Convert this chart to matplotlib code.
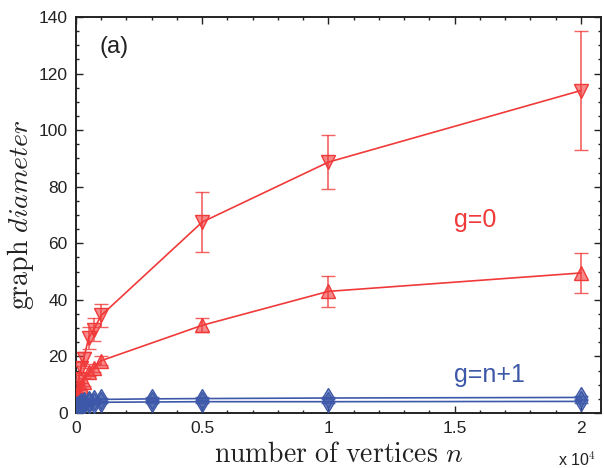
import matplotlib
matplotlib.use("Agg")
import matplotlib.pyplot as plt
from matplotlib.ticker import MultipleLocator, FuncFormatter

# number of vertices
n_red = [50, 100, 200, 300, 500, 700, 1000, 5000, 10000, 20000]
n_blue = [50, 100, 200, 300, 500, 700, 1000, 3000, 5000, 10000, 20000]

# g=0, two series (down / up triangles)
red_down = [8, 12, 16, 19, 26.5, 29.5, 34.5, 67.5, 88.7, 114]
red_down_err = [1, 1.5, 2, 2.5, 4, 4, 4, 10.5, 9.5, 21]
red_up = [5, 7, 9.5, 11, 14.5, 16, 18.5, 31, 43, 49.5]
red_up_err = [0.5, 1, 1, 1.5, 1.5, 1.5, 1.5, 2.5, 5.5, 7]

# g=n+1
blue_up = [2.5, 3.0, 3.6, 4.0, 4.4, 4.6, 4.8, 5.0, 5.1, 5.3, 5.5]
blue_up_err = [0.3, 0.3, 0.4, 0.4, 0.4, 0.4, 0.4, 0.5, 0.5, 0.5, 0.5]
blue_down = [1.5, 2.2, 2.8, 3.1, 3.4, 3.6, 3.8, 3.9, 4.0, 4.0, 4.1]
blue_down_err = [0.3, 0.3, 0.3, 0.3, 0.3, 0.3, 0.3, 0.4, 0.4, 0.4, 0.4]

red = "#f03a3a"
blue = "#3d58a8"

plt.rcParams['mathtext.fontset'] = 'cm'
sans = ['Liberation Sans', 'DejaVu Sans']

fig = plt.figure(figsize=(6.04, 4.68), dpi=100)
ax = fig.add_axes([76 / 604, 55 / 468, 525 / 604, 396 / 468])


def series(x, y, err, color, marker, ms):
    ax.errorbar(x, y, yerr=err, color=color, lw=1.2, elinewidth=1.2,
                capsize=5, capthick=1.2, ecolor=color + "cc",
                marker=marker, markersize=ms, mfc=color + "99", mec=color,
                mew=1.0, zorder=3)


series(n_red, red_down, red_down_err, red, 'v', 10.5)
series(n_red, red_up, red_up_err, red, '^', 10.5)
series(n_blue, blue_up, blue_up_err, blue, 'd', 10)
series(n_blue, blue_down, blue_down_err, blue, 'd', 10)

ax.set_xlim(0, 20800)
ax.set_ylim(0, 140)
ax.xaxis.set_major_locator(MultipleLocator(5000))
ax.xaxis.set_minor_locator(MultipleLocator(1000))
ax.yaxis.set_major_locator(MultipleLocator(20))
ax.yaxis.set_minor_locator(MultipleLocator(5))
ax.xaxis.set_major_formatter(FuncFormatter(lambda v, p: "%g" % (v / 1e4)))
ax.tick_params(which='both', direction='in', top=True, right=True,
               width=1.0, color='#222222')
ax.tick_params(which='major', length=5, labelsize=12.5, pad=6)
ax.tick_params(which='minor', length=2.5)
for lab in ax.get_xticklabels() + ax.get_yticklabels():
    lab.set_family(sans)
    lab.set_color('#222222')
for s in ax.spines.values():
    s.set_linewidth(1.4)
    s.set_color('#222222')

ax.set_xlabel(r"$\mathrm{number\ of\ vertices}\ n$", fontsize=20,
              color='#222222', labelpad=3)
ax.set_ylabel(r"$\mathrm{graph}\ diameter$", fontsize=20,
              color='#222222', labelpad=2)

fig.text(558 / 604, 2 / 468, "x 10$^\\mathsf{4}$", family=sans, fontsize=11.5,
         color='#222222', ha='left', va='baseline')

ax.text(0.045, 0.925, "(a)", transform=ax.transAxes, family=sans,
        fontsize=17, color='#222222', ha='left', va='center')
ax.text(0.72, 0.487, "g=0", transform=ax.transAxes, family=sans,
        fontsize=18, color=red, ha='left', va='center')
ax.text(0.72, 0.096, "g=n+1", transform=ax.transAxes, family=sans,
        fontsize=18, color=blue, ha='left', va='center')

fig.savefig("out.png", dpi=100)
